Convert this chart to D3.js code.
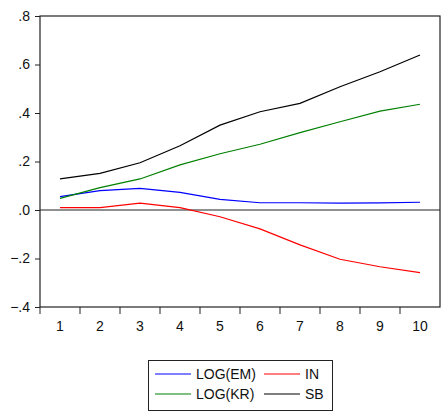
<!DOCTYPE html>
<html>
<head>
<meta charset="utf-8">
<script src="https://cdn.jsdelivr.net/npm/d3@7"></script>
<style>
  body { margin: 0; background: #fff; }
  text { font-family: "Liberation Sans", Arial, sans-serif; }
</style>
</head>
<body>
<svg id="chart" width="441" height="412"></svg>
<script>
    var periods = [1, 2, 3, 4, 5, 6, 7, 8, 9, 10];
    var logEM = [0.055, 0.080, 0.089, 0.073, 0.044, 0.030, 0.030, 0.028, 0.029, 0.032];
    var inVals = [0.010, 0.010, 0.028, 0.010, -0.028, -0.078, -0.144, -0.203, -0.234, -0.258];
    var logKR = [0.048, 0.092, 0.128, 0.186, 0.232, 0.271, 0.319, 0.364, 0.408, 0.436];
    var sb = [0.128, 0.151, 0.195, 0.265, 0.350, 0.405, 0.440, 0.508, 0.570, 0.639];
    var yTicks = [-0.4, -0.2, 0.0, 0.2, 0.4, 0.6, 0.8];

    var series = [
        {name: "LOG(EM)", values: logEM, color: "#0000ff"},
        {name: "IN", values: inVals, color: "#ff0000"},
        {name: "LOG(KR)", values: logKR, color: "#008000"},
        {name: "SB", values: sb, color: "#000000"}
    ];

    var svg = d3.select("#chart");
    var margin = {top: 16, left: 40, right: 1, bottom: 105};
    var width = 441 - margin.left - margin.right,
        height = 412 - margin.top - margin.bottom;

    var g = svg.append("g").attr("transform", "translate(" + margin.left + "," + margin.top + ")");

    var x = d3.scaleBand().domain(periods).range([0, width]);
    var y = d3.scaleLinear().domain([-0.4, 0.8]).range([height, 0]);

    var fmt = function (d) {
        return d3.format(".1f")(d).replace("0.", ".");
    };

    // y axis
    var yAxis = g.append("g")
        .call(d3.axisLeft(y).tickValues(yTicks).tickSize(5).tickPadding(5).tickFormat(fmt));
    yAxis.select(".domain").remove();
    yAxis.selectAll("line").attr("stroke", "#222");
    yAxis.selectAll("text").attr("font-size", 14).attr("fill", "#111").attr("font-family", "Liberation Sans, Arial, sans-serif");

    // x axis: ticks at band boundaries, labels at centres
    var xg = g.append("g").attr("transform", "translate(0," + height + ")");
    xg.selectAll("line.tick")
        .data(periods)
        .enter().append("line")
        .attr("x1", function (d) { return x(d); })
        .attr("x2", function (d) { return x(d); })
        .attr("y1", 0).attr("y2", 7)
        .attr("stroke", "#222");
    xg.selectAll("text")
        .data(periods)
        .enter().append("text")
        .attr("x", function (d) { return x(d) + x.bandwidth() / 2; })
        .attr("y", 24)
        .attr("text-anchor", "middle")
        .attr("font-size", 14)
        .attr("fill", "#111")
        .text(function (d) { return d; });

    // frame
    g.append("rect")
        .attr("x", 0).attr("y", 0)
        .attr("width", width).attr("height", height)
        .attr("fill", "none")
        .attr("stroke", "#222")
        .attr("stroke-width", 1.2);

    // zero line
    g.append("line")
        .attr("x1", 0).attr("x2", width)
        .attr("y1", y(0)).attr("y2", y(0))
        .attr("stroke", "#222")
        .attr("stroke-width", 1.2);

    var line = d3.line()
        .x(function (d, i) { return x(periods[i]) + x.bandwidth() / 2; })
        .y(function (d) { return y(d); });

    series.forEach(function (s) {
        g.append("path").datum(s.values)
            .attr("fill", "none")
            .attr("stroke", s.color)
            .attr("stroke-width", 1.2)
            .attr("d", line);
    });

    // legend
    var lg = svg.append("g").attr("transform", "translate(148,360)");
    lg.append("rect")
        .attr("x", 0.5).attr("y", 0.5)
        .attr("width", 184).attr("height", 50)
        .attr("fill", "none")
        .attr("stroke", "#222");
    var pos = [
        {x: 7, y: 14},
        {x: 116, y: 14},
        {x: 7, y: 34},
        {x: 116, y: 34}
    ];
    series.forEach(function (s, i) {
        var p = pos[i];
        lg.append("line")
            .attr("x1", p.x).attr("x2", p.x + 36)
            .attr("y1", p.y).attr("y2", p.y)
            .attr("stroke", s.color)
            .attr("stroke-width", 1.2);
        lg.append("text")
            .attr("x", p.x + 41)
            .attr("y", p.y + 5)
            .attr("font-size", 14)
            .attr("fill", "#111")
            .text(s.name);
    });
</script>
</body>
</html>
